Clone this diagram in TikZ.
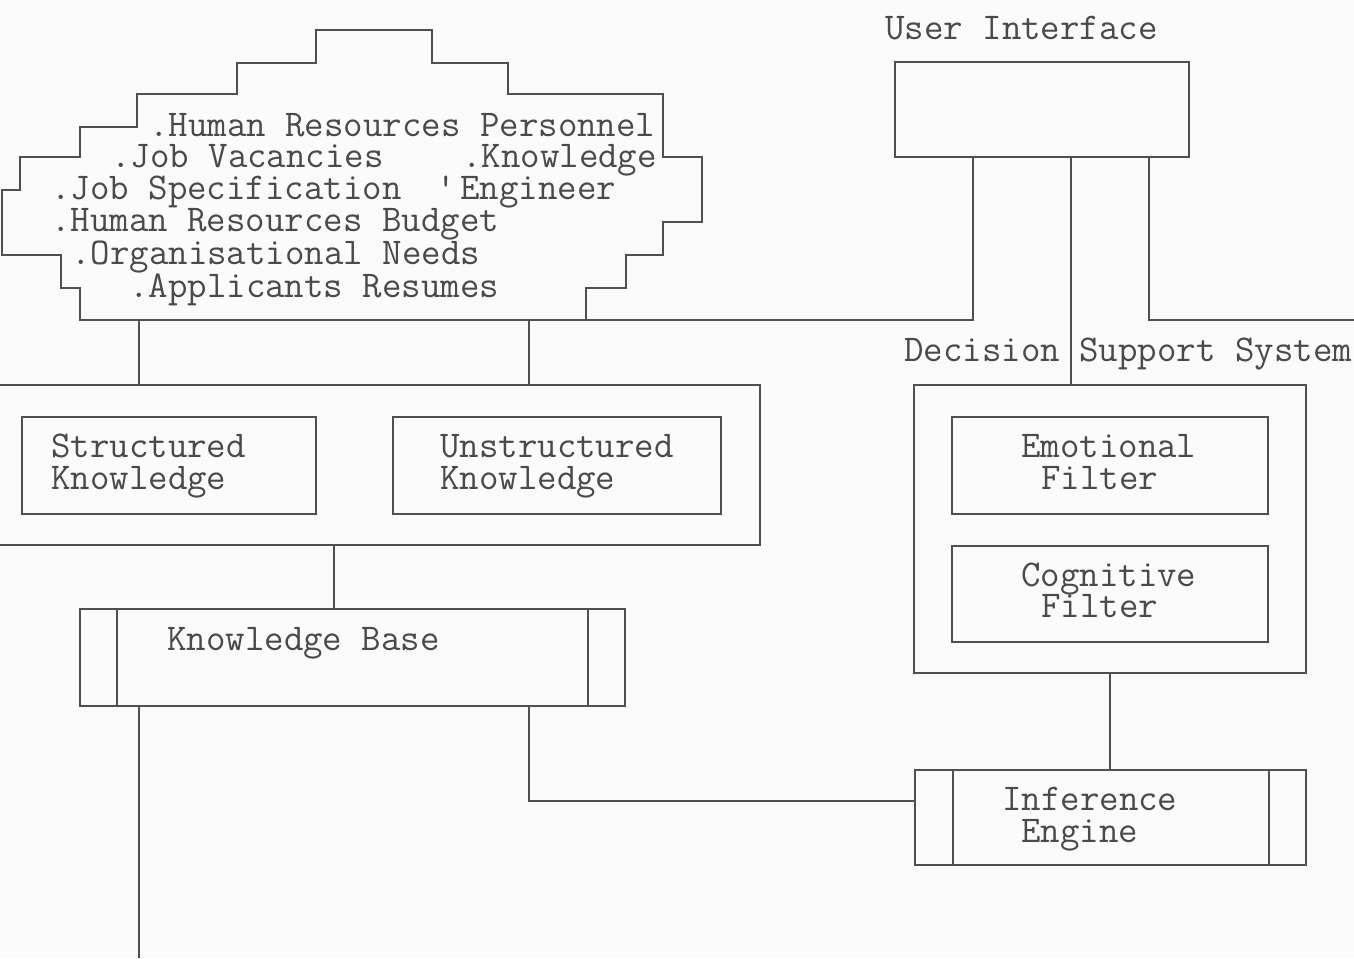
\documentclass[tikz,border=0pt]{standalone}
\usepackage{fontspec}
\definecolor{linegray}{HTML}{505050}
\definecolor{textgray}{HTML}{4A4A4A}
\definecolor{paper}{HTML}{FBFBFB}
\begin{document}
\begin{tikzpicture}[x=1pt,y=-1pt,
  ln/.style={draw=linegray, line width=1.8pt},
  box/.style={draw=linegray, line width=1.8pt, rectangle, inner sep=0pt},
  txt/.style={anchor=base west, inner sep=0pt, text=textgray,
              font=\ttfamily\fontsize{37.8}{40}\selectfont}]

% page
\fill[paper] (0,0) rectangle (1354,958);
\useasboundingbox (0,0) rectangle (1354,958);

% stepped cloud of knowledge sources
\draw[ln] (316,30) -- (432,30) -- (432,63) -- (508,63) -- (508,94) -- (663,94)
  -- (663,157) -- (702,157) -- (702,222) -- (663,222) -- (663,255) -- (626,255)
  -- (626,288) -- (586,288) -- (586,320) -- (80,320) -- (80,288) -- (61,288)
  -- (61,255) -- (2,255) -- (2,190) -- (20,190) -- (20,157) -- (80,157)
  -- (80,127) -- (137,127) -- (137,94) -- (237,94) -- (237,63) -- (316,63) -- cycle;
\coordinate (cloudL) at (139,320);
\coordinate (cloudM) at (529,320);
\coordinate (cloudR) at (586,320);

\node[txt] (s1) at (149,136) {.Human Resources Personnel};
\node[txt] (s2) at (111,167) {.Job Vacancies};
\node[txt] (s3) at (462,167) {.Knowledge};
\node[txt] (s4) at (51,199) {.Job Specification};
\node[txt] (s5) at (436,199) {'};
\node[txt] (s6) at (460,199) {Engineer};
\node[txt] (s7) at (51,231) {.Human Resources Budget};
\node[txt] (s8) at (71,264) {.Organisational Needs};
\node[txt] (s9) at (129,297) {.Applicants Resumes};

% user interface
\node[txt] (uilabel) at (885,40) {User Interface};
\node[box, minimum width=294pt, minimum height=95pt] (ui) at (1042,109.5) {};

% knowledge group
\node[inner sep=0pt, minimum width=760pt, minimum height=160pt] (kgroup) at (380,465) {};
\draw[ln] (kgroup.north west) -- (kgroup.north east) -- (kgroup.south east) -- (kgroup.south west);
\node[box, minimum width=294pt, minimum height=97pt] (sk) at (169,465.5) {};
\node[txt] (sk1) at (51,457) {Structured};
\node[txt] (sk2) at (51,489) {Knowledge};
\node[box, minimum width=328pt, minimum height=97pt] (uk) at (557,465.5) {};
\node[txt] (uk1) at (440,457) {Unstructured};
\node[txt] (uk2) at (440,489) {Knowledge};

% knowledge base
\node[box, minimum width=545pt, minimum height=97pt] (kb) at (352.5,657.5) {};
\draw[ln] ([xshift=38pt]kb.north west) -- ([xshift=38pt]kb.south west);
\draw[ln] ([xshift=-38pt]kb.north east) -- ([xshift=-38pt]kb.south east);
\node[txt] (kblabel) at (167,650) {Knowledge Base};

% decision support system
\node[txt] (dsslabel) at (904,361) {Decision Support System};
\node[box, minimum width=392pt, minimum height=288pt] (dss) at (1110,529) {};
\node[box, minimum width=316pt, minimum height=97pt] (emo) at (1110,465.5) {};
\node[txt] (emo1) at (1021,457) {Emotional};
\node[txt] (emo2) at (1041,489) {Filter};
\node[box, minimum width=316pt, minimum height=96pt] (cog) at (1110,594) {};
\node[txt] (cog1) at (1021,586) {Cognitive};
\node[txt] (cog2) at (1041,617) {Filter};

% inference engine
\node[box, minimum width=391pt, minimum height=95pt] (ie) at (1110.5,817.5) {};
\draw[ln] ([xshift=39pt]ie.north west) -- ([xshift=39pt]ie.south west);
\draw[ln] ([xshift=-38pt]ie.north east) -- ([xshift=-38pt]ie.south east);
\node[txt] (ie1) at (1002,810) {Inference};
\node[txt] (ie2) at (1021,842) {Engine};

% connectors
\coordinate (rightend) at (1354,320);
\coordinate (bottomend) at (139,958);
\draw[ln] (cloudR) -| ([xshift=-69pt]ui.south);
\draw[ln] ([xshift=29pt]ui.south) -- ([xshift=-39pt]dss.north);
\draw[ln] ([xshift=107pt]ui.south) |- (rightend);
\draw[ln] (cloudL) -- (cloudL |- kgroup.north);
\draw[ln] (cloudM) -- (cloudM |- kgroup.north);
\draw[ln] ([xshift=-18.5pt]kb.north) -- ([xshift=-18.5pt]kb.north |- kgroup.south);
\draw[ln] ([xshift=-213.5pt]kb.south) -- (bottomend);
\draw[ln] ([xshift=176.5pt]kb.south) |- ([yshift=16.5pt]ie.west);
\draw[ln] (dss.south) -- (dss.south |- ie.north);
\end{tikzpicture}
\end{document}
